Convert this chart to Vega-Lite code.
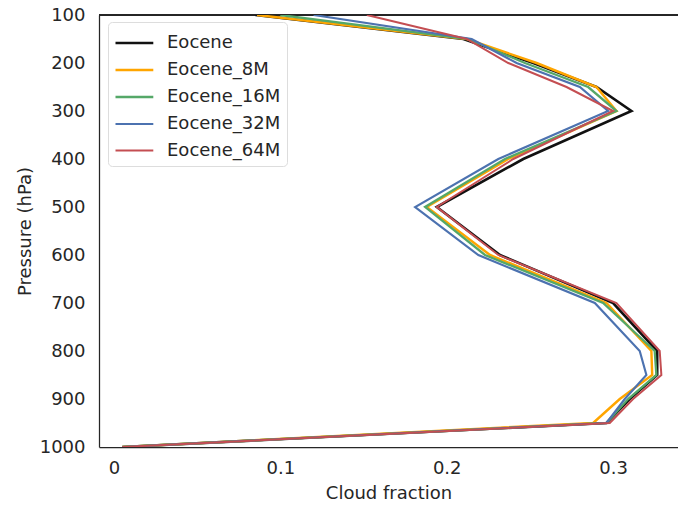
{
  "$schema": "https://vega.github.io/schema/vega-lite/v6.json",
  "autosize": "none",
  "width": 579,
  "height": 432,
  "padding": {"left": 99, "top": 15, "right": 0, "bottom": 60},
  "background": "white",
  "config": {
    "view": {"stroke": null},
    "font": "DejaVu Sans",
    "axis": {"labelFont": "DejaVu Sans", "titleFont": "DejaVu Sans", "labelColor": "#262626", "titleColor": "#262626", "titleFontWeight": "normal", "grid": false, "domainColor": "#262626", "domainWidth": 1.25, "ticks": false, "labelFontSize": 18, "titleFontSize": 18},
    "legend": {"labelFont": "DejaVu Sans", "labelFontSize": 18, "labelColor": "#262626"}
  },
  "data": {"values": [
    {"s": "Eocene", "p": 100, "cf": 0.085},
    {"s": "Eocene", "p": 150, "cf": 0.21},
    {"s": "Eocene", "p": 200, "cf": 0.252},
    {"s": "Eocene", "p": 250, "cf": 0.29},
    {"s": "Eocene", "p": 300, "cf": 0.311},
    {"s": "Eocene", "p": 400, "cf": 0.246},
    {"s": "Eocene", "p": 500, "cf": 0.194},
    {"s": "Eocene", "p": 600, "cf": 0.232},
    {"s": "Eocene", "p": 700, "cf": 0.300},
    {"s": "Eocene", "p": 800, "cf": 0.3265},
    {"s": "Eocene", "p": 850, "cf": 0.3265},
    {"s": "Eocene", "p": 900, "cf": 0.31},
    {"s": "Eocene", "p": 950, "cf": 0.296},
    {"s": "Eocene", "p": 1000, "cf": 0.005},
    {"s": "Eocene_8M", "p": 100, "cf": 0.086},
    {"s": "Eocene_8M", "p": 150, "cf": 0.212},
    {"s": "Eocene_8M", "p": 200, "cf": 0.254},
    {"s": "Eocene_8M", "p": 250, "cf": 0.29},
    {"s": "Eocene_8M", "p": 300, "cf": 0.302},
    {"s": "Eocene_8M", "p": 400, "cf": 0.237},
    {"s": "Eocene_8M", "p": 500, "cf": 0.188},
    {"s": "Eocene_8M", "p": 600, "cf": 0.226},
    {"s": "Eocene_8M", "p": 700, "cf": 0.296},
    {"s": "Eocene_8M", "p": 800, "cf": 0.323},
    {"s": "Eocene_8M", "p": 850, "cf": 0.3235},
    {"s": "Eocene_8M", "p": 900, "cf": 0.304},
    {"s": "Eocene_8M", "p": 950, "cf": 0.288},
    {"s": "Eocene_8M", "p": 1000, "cf": 0.005},
    {"s": "Eocene_16M", "p": 100, "cf": 0.1},
    {"s": "Eocene_16M", "p": 150, "cf": 0.213},
    {"s": "Eocene_16M", "p": 200, "cf": 0.247},
    {"s": "Eocene_16M", "p": 250, "cf": 0.285},
    {"s": "Eocene_16M", "p": 300, "cf": 0.302},
    {"s": "Eocene_16M", "p": 400, "cf": 0.235},
    {"s": "Eocene_16M", "p": 500, "cf": 0.187},
    {"s": "Eocene_16M", "p": 600, "cf": 0.223},
    {"s": "Eocene_16M", "p": 700, "cf": 0.294},
    {"s": "Eocene_16M", "p": 800, "cf": 0.325},
    {"s": "Eocene_16M", "p": 850, "cf": 0.326},
    {"s": "Eocene_16M", "p": 900, "cf": 0.309},
    {"s": "Eocene_16M", "p": 950, "cf": 0.296},
    {"s": "Eocene_16M", "p": 1000, "cf": 0.005},
    {"s": "Eocene_32M", "p": 100, "cf": 0.12},
    {"s": "Eocene_32M", "p": 150, "cf": 0.215},
    {"s": "Eocene_32M", "p": 200, "cf": 0.242},
    {"s": "Eocene_32M", "p": 250, "cf": 0.28},
    {"s": "Eocene_32M", "p": 300, "cf": 0.297},
    {"s": "Eocene_32M", "p": 400, "cf": 0.231},
    {"s": "Eocene_32M", "p": 500, "cf": 0.181},
    {"s": "Eocene_32M", "p": 600, "cf": 0.219},
    {"s": "Eocene_32M", "p": 700, "cf": 0.289},
    {"s": "Eocene_32M", "p": 800, "cf": 0.316},
    {"s": "Eocene_32M", "p": 850, "cf": 0.32},
    {"s": "Eocene_32M", "p": 900, "cf": 0.307},
    {"s": "Eocene_32M", "p": 950, "cf": 0.296},
    {"s": "Eocene_32M", "p": 1000, "cf": 0.005},
    {"s": "Eocene_64M", "p": 100, "cf": 0.152},
    {"s": "Eocene_64M", "p": 150, "cf": 0.212},
    {"s": "Eocene_64M", "p": 200, "cf": 0.237},
    {"s": "Eocene_64M", "p": 250, "cf": 0.272},
    {"s": "Eocene_64M", "p": 300, "cf": 0.3},
    {"s": "Eocene_64M", "p": 400, "cf": 0.24},
    {"s": "Eocene_64M", "p": 500, "cf": 0.194},
    {"s": "Eocene_64M", "p": 600, "cf": 0.231},
    {"s": "Eocene_64M", "p": 700, "cf": 0.302},
    {"s": "Eocene_64M", "p": 800, "cf": 0.328},
    {"s": "Eocene_64M", "p": 850, "cf": 0.329},
    {"s": "Eocene_64M", "p": 900, "cf": 0.312},
    {"s": "Eocene_64M", "p": 950, "cf": 0.298},
    {"s": "Eocene_64M", "p": 1000, "cf": 0.005}
  ]},
  "layer": [
    {
      "mark": {"type": "rule", "color": "#262626", "strokeWidth": 1.25},
      "encoding": {"y": {"datum": 100, "type": "quantitative", "scale": {"domain": [100, 1000], "reverse": true, "nice": false, "zero": false}}}
    },
    {
      "mark": {"type": "line", "clip": true},
      "encoding": {
        "x": {"field": "cf", "type": "quantitative", "title": "Cloud fraction",
              "scale": {"domain": [-0.009, 0.339], "nice": false, "zero": false},
              "axis": {"values": [0, 0.1, 0.2, 0.3], "labelExpr": "datum.value == 0 ? '0' : format(datum.value, '.1f')", "labelPadding": 12, "titlePadding": 7}},
        "y": {"field": "p", "type": "quantitative", "title": "Pressure (hPa)",
              "scale": {"domain": [100, 1000], "reverse": true, "nice": false, "zero": false},
              "axis": {"values": [100, 200, 300, 400, 500, 600, 700, 800, 900, 1000], "format": "d", "labelPadding": 14, "titlePadding": 5}},
        "order": {"field": "p", "type": "quantitative"},
        "color": {"field": "s", "type": "nominal", "title": null,
                  "scale": {"domain": ["Eocene", "Eocene_8M", "Eocene_16M", "Eocene_32M", "Eocene_64M"], "range": ["#111111", "#ffa500", "#55a868", "#4c72b0", "#c44e52"]},
                  "legend": {"orient": "none", "legendX": 9, "legendY": 7, "symbolType": "M-1,0H1.8", "symbolSize": 729, "symbolStrokeWidth": 2, "rowPadding": 3, "labelOffset": 23, "padding": 6, "strokeColor": "#dddddd", "fillColor": "white", "cornerRadius": 4}},
        "strokeWidth": {"field": "s", "type": "nominal",
                  "scale": {"domain": ["Eocene", "Eocene_8M", "Eocene_16M", "Eocene_32M", "Eocene_64M"], "range": [2.6, 2, 2, 2, 2]},
                  "legend": null}
      }
    }
  ]
}
